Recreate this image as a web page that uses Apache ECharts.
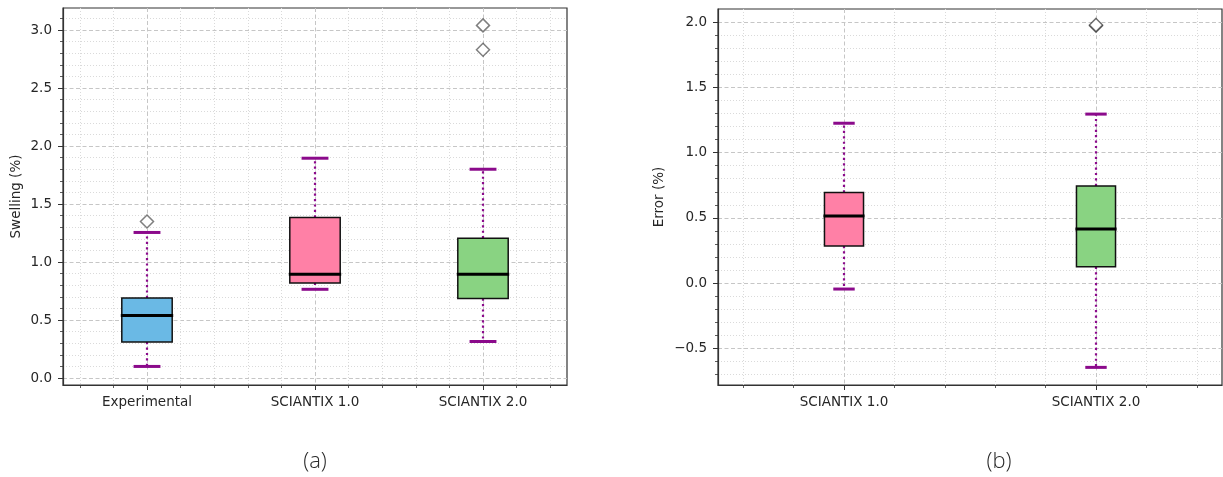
<!DOCTYPE html>
<html>
<head>
<meta charset="utf-8">
<title>Swelling and error box plots</title>
<script src="https://cdn.jsdelivr.net/npm/echarts@6/dist/echarts.min.js"></script>
<style>
  html, body { margin: 0; padding: 0; background: #ffffff; }
  #chart { width: 1223px; height: 477px; }
</style>
</head>
<body>
<div id="chart"></div>
<script>
// ---- data -------------------------------------------------------------
// Panel (a): swelling (%) per data source, box stats as [low whisker, Q1, median, Q3, high whisker]
const swellingCategories = ['Experimental', 'SCIANTIX 1.0', 'SCIANTIX 2.0'];
const swellingStats = [
  [0.10, 0.31, 0.54, 0.69, 1.255],
  [0.765, 0.82, 0.895, 1.385, 1.895],
  [0.315, 0.685, 0.895, 1.205, 1.80]
];
// outliers as [category position (1-based), value]
const swellingOutliers = [[1, 1.35], [3, 2.83], [3, 3.04]];
const swellingTicks = [0.0, 0.5, 1.0, 1.5, 2.0, 2.5, 3.0];

// Panel (b): error (%) of each code version
const errorCategories = ['SCIANTIX 1.0', 'SCIANTIX 2.0'];
const errorStats = [
  [-0.045, 0.285, 0.515, 0.695, 1.225],
  [-0.645, 0.125, 0.415, 0.745, 1.295]
];
const errorOutliers = [[2, 1.972], [2, 1.978]];
const errorTicks = [-0.5, 0.0, 0.5, 1.0, 1.5, 2.0];

// ---- styling ----------------------------------------------------------
const FONT = 'DejaVu Sans';
const FONT_SIZE = 13.5;
const TEXT = '#262626';
const FRAME = '#333333';
const WHISKER = '#8b0a8b';
const swellingFills = ['#6ab9e5', '#ff80a6', '#89d382'];
const errorFills = ['#ff80a6', '#89d382'];

const majorGrid = { show: true, lineStyle: { color: '#c6c6c6', type: [4, 2.5], width: 1 } };
const minorGrid = { show: true, lineStyle: { color: '#dadada', type: [1, 2], width: 1 } };

function xAxisFor(gridIndex, categories) {
  const positions = categories.map((_, i) => i + 1);
  return {
    type: 'value', gridIndex,
    min: 0.5, max: categories.length + 0.5,
    minInterval: 1, maxInterval: 1,
    axisLine: { show: true, onZero: false, lineStyle: { color: FRAME, width: 1.2 } },
    axisTick: { show: true, length: 5, customValues: positions, lineStyle: { color: FRAME, width: 1 } },
    minorTick: { show: true, splitNumber: 5, length: 3, lineStyle: { color: FRAME, width: 0.8 } },
    axisLabel: {
      customValues: positions, margin: 10, color: TEXT, fontFamily: FONT, fontSize: FONT_SIZE,
      formatter: v => (Math.abs(v - Math.round(v)) < 1e-6 ? (categories[Math.round(v) - 1] || '') : '')
    },
    splitLine: majorGrid,
    minorSplitLine: minorGrid
  };
}

function yAxisFor(gridIndex, min, max, ticks, name, nameGap) {
  return {
    type: 'value', gridIndex, min, max,
    minInterval: 0.5, maxInterval: 0.5,
    name, nameLocation: 'middle', nameGap,
    nameTextStyle: { color: TEXT, fontFamily: FONT, fontSize: FONT_SIZE },
    axisLine: { show: true, onZero: false, lineStyle: { color: FRAME, width: 1.2 } },
    axisTick: { show: true, length: 5, customValues: ticks, lineStyle: { color: FRAME, width: 1 } },
    minorTick: { show: true, splitNumber: 5, length: 3, lineStyle: { color: FRAME, width: 0.8 } },
    axisLabel: {
      customValues: ticks, margin: 11, color: TEXT, fontFamily: FONT, fontSize: FONT_SIZE,
      formatter: v => v.toFixed(1).replace('-', '\u2212')
    },
    splitLine: majorGrid,
    minorSplitLine: minorGrid
  };
}

// Box with dotted whiskers, caps and a bold median, drawn through the axis scales.
function boxSeries(axisIndex, stats, fills, boxWidth, capWidth) {
  return {
    type: 'custom',
    xAxisIndex: axisIndex, yAxisIndex: axisIndex,
    data: stats.map((s, i) => [i + 1].concat(s)),
    encode: { x: 0, y: [1, 2, 3, 4, 5] },
    z: 3,
    renderItem(params, api) {
      const x = api.value(0);
      const pts = [1, 2, 3, 4, 5].map(d => api.coord([x, api.value(d)]));
      const [lo, q1, med, q3, hi] = pts;
      const cx = lo[0];
      const half = api.size([boxWidth, 0])[0] / 2;
      const capHalf = api.size([capWidth, 0])[0] / 2;
      const whiskerStyle = { stroke: WHISKER, lineWidth: 2.2, lineDash: [2.2, 3.2] };
      const capStyle = { stroke: WHISKER, lineWidth: 3 };
      return {
        type: 'group',
        children: [
          { type: 'line', shape: { x1: cx, y1: q3[1], x2: cx, y2: hi[1] }, style: whiskerStyle },
          { type: 'line', shape: { x1: cx, y1: q1[1], x2: cx, y2: lo[1] }, style: whiskerStyle },
          { type: 'line', shape: { x1: cx - capHalf, y1: hi[1], x2: cx + capHalf, y2: hi[1] }, style: capStyle },
          { type: 'line', shape: { x1: cx - capHalf, y1: lo[1], x2: cx + capHalf, y2: lo[1] }, style: capStyle },
          {
            type: 'rect',
            shape: { x: cx - half, y: q3[1], width: half * 2, height: q1[1] - q3[1] },
            style: { fill: fills[params.dataIndex], stroke: '#111', lineWidth: 1.5 }
          },
          {
            type: 'line',
            shape: { x1: cx - half - 1, y1: med[1], x2: cx + half + 1, y2: med[1] },
            style: { stroke: '#000', lineWidth: 3 }
          }
        ]
      };
    }
  };
}

function outlierSeries(axisIndex, points) {
  return {
    type: 'scatter',
    xAxisIndex: axisIndex, yAxisIndex: axisIndex,
    data: points,
    symbol: 'diamond',
    symbolSize: 13,
    z: 4,
    itemStyle: { color: '#ffffff', borderColor: 'rgba(0,0,0,0.5)', borderWidth: 1.5, opacity: 1 },
    emphasis: { disabled: true }
  };
}

const chart = echarts.init(document.getElementById('chart'), null, { renderer: 'canvas' });
chart.setOption({
  animation: false,
  backgroundColor: '#ffffff',
  grid: [
    { left: 63, top: 8, width: 504, height: 377, show: true, borderColor: FRAME, borderWidth: 1.2, backgroundColor: 'transparent' },
    { left: 718, top: 9, width: 504, height: 376, show: true, borderColor: FRAME, borderWidth: 1.2, backgroundColor: 'transparent' }
  ],
  xAxis: [xAxisFor(0, swellingCategories), xAxisFor(1, errorCategories)],
  yAxis: [
    yAxisFor(0, -0.06, 3.19, swellingTicks, 'Swelling (%)', 40),
    yAxisFor(1, -0.78, 2.1, errorTicks, 'Error (%)', 52)
  ],
  series: [
    boxSeries(0, swellingStats, swellingFills, 0.3, 0.16),
    outlierSeries(0, swellingOutliers),
    boxSeries(1, errorStats, errorFills, 0.155, 0.085),
    outlierSeries(1, errorOutliers)
  ],
  graphic: [
    { type: 'text', x: 315, y: 462, style: { text: '(a)', font: '300 22px "Open Sans"', fill: '#2a2a2a', align: 'center', verticalAlign: 'middle' } },
    { type: 'text', x: 999, y: 462, style: { text: '(b)', font: '300 22px "Open Sans"', fill: '#2a2a2a', align: 'center', verticalAlign: 'middle' } }
  ]
});
</script>
</body>
</html>
